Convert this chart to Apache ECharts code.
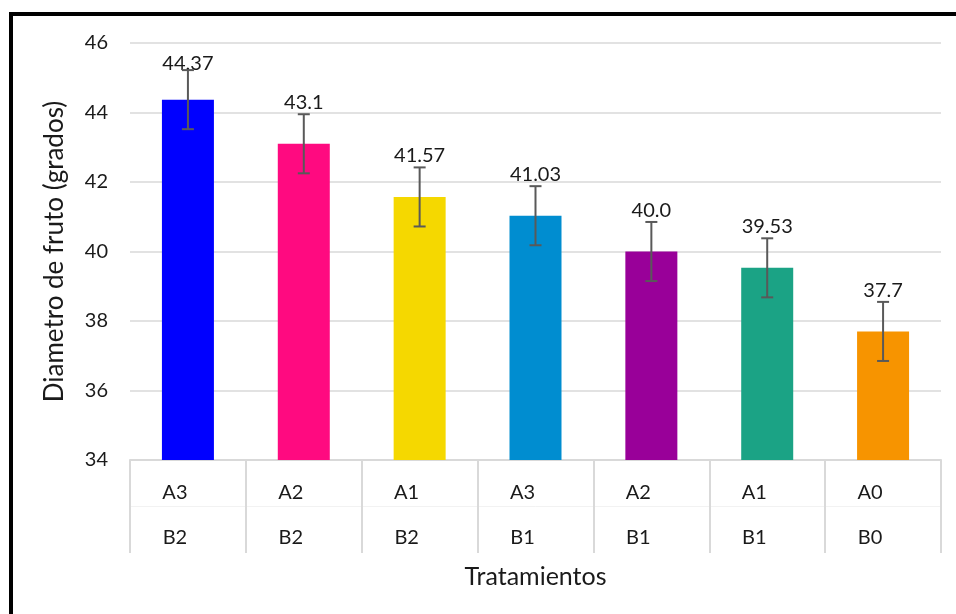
<!DOCTYPE html>
<html><head><meta charset="utf-8">
<script src="https://cdn.jsdelivr.net/npm/echarts@6/dist/echarts.min.js"></script>
<style>
html,body{margin:0;padding:0;background:#fff;overflow:hidden;}
#c{width:956px;height:614px;position:absolute;left:0;top:0;}
#frame{position:absolute;left:9px;top:12px;width:1200px;height:1200px;border-left:4px solid #000;border-top:4px solid #000;pointer-events:none;}
</style></head>
<body>
<div id="c"></div>
<div id="frame"></div>
<script>
const factorA = ['A3','A2','A1','A3','A2','A1','A0'];
const factorB = ['B2','B2','B2','B1','B1','B1','B0'];
const values = [44.37, 43.1, 41.57, 41.03, 40.0, 39.53, 37.7];
const valueLabels = ['44.37','43.1','41.57','41.03','40.0','39.53','37.7'];
const errors = [0.85, 0.85, 0.85, 0.85, 0.85, 0.85, 0.85];
const colors = ['#0000FF','#FF0A80','#F5D800','#008DD0','#990099','#1BA385','#F79400'];
const yTicks = {min:34, max:46, interval:2};

const cats = factorA.map((a,i)=>a+'\n'+factorB[i]);
const font = 'Lato, "Open Sans", sans-serif';
const chart = echarts.init(document.getElementById('c'));
chart.setOption({
  animation:false,
  grid:{left:130,right:15,top:43,bottom:154,containLabel:false},
  xAxis:[{
    type:'category', data:cats,
    name:'Tratamientos', nameLocation:'middle', nameGap:100,
    nameTextStyle:{fontFamily:font,fontSize:25,color:'#1a1a1a'},
    axisLine:{show:true,lineStyle:{color:'#d9d9d9',width:2}},
    axisTick:{show:true,length:93,interval:0,lineStyle:{color:'#d9d9d9',width:2}},
    axisLabel:{interval:0,margin:10,fontFamily:font,fontSize:20,color:'#1a1a1a',lineHeight:45,padding:[0,26,0,0]}
  },{
    type:'category', data:cats, position:'bottom', offset:46,
    axisLine:{show:true,lineStyle:{color:'#f2f2f2',width:1}},
    axisTick:{show:false}, axisLabel:{show:false}
  }],
  yAxis:{
    type:'value', min:yTicks.min, max:yTicks.max, interval:yTicks.interval,
    name:'Diametro de fruto (grados)', nameLocation:'middle', nameGap:62,
    nameTextStyle:{fontFamily:font,fontSize:26,color:'#1a1a1a'},
    axisLine:{show:false}, axisTick:{show:false},
    axisLabel:{margin:22,fontFamily:font,fontSize:20,color:'#1a1a1a'},
    splitLine:{lineStyle:{color:'#d9d9d9',width:1.5}}
  },
  series:[{
    type:'bar', barWidth:52,
    data:values.map((v,i)=>({value:v,itemStyle:{color:colors[i]},label:{distance:i===0?26:31}})),
    label:{show:true,position:'top',distance:31,fontFamily:font,fontSize:20,color:'#1a1a1a',
      formatter:p=>valueLabels[p.dataIndex]},
    z:2
  },{
    type:'custom', z:5,
    data:values.map((v,i)=>[i,v-errors[i],v+errors[i]]),
    renderItem:function(params,api){
      const lo=api.coord([api.value(0),api.value(1)]);
      const hi=api.coord([api.value(0),api.value(2)]);
      const hw=6;
      const st={stroke:'#595959',lineWidth:2};
      return {type:'group',children:[
        {type:'line',shape:{x1:lo[0],y1:lo[1],x2:hi[0],y2:hi[1]},style:st},
        {type:'line',shape:{x1:lo[0]-hw,y1:lo[1],x2:lo[0]+hw,y2:lo[1]},style:st},
        {type:'line',shape:{x1:hi[0]-hw,y1:hi[1],x2:hi[0]+hw,y2:hi[1]},style:st}
      ]};
    }
  }]
});
</script>
</body></html>
